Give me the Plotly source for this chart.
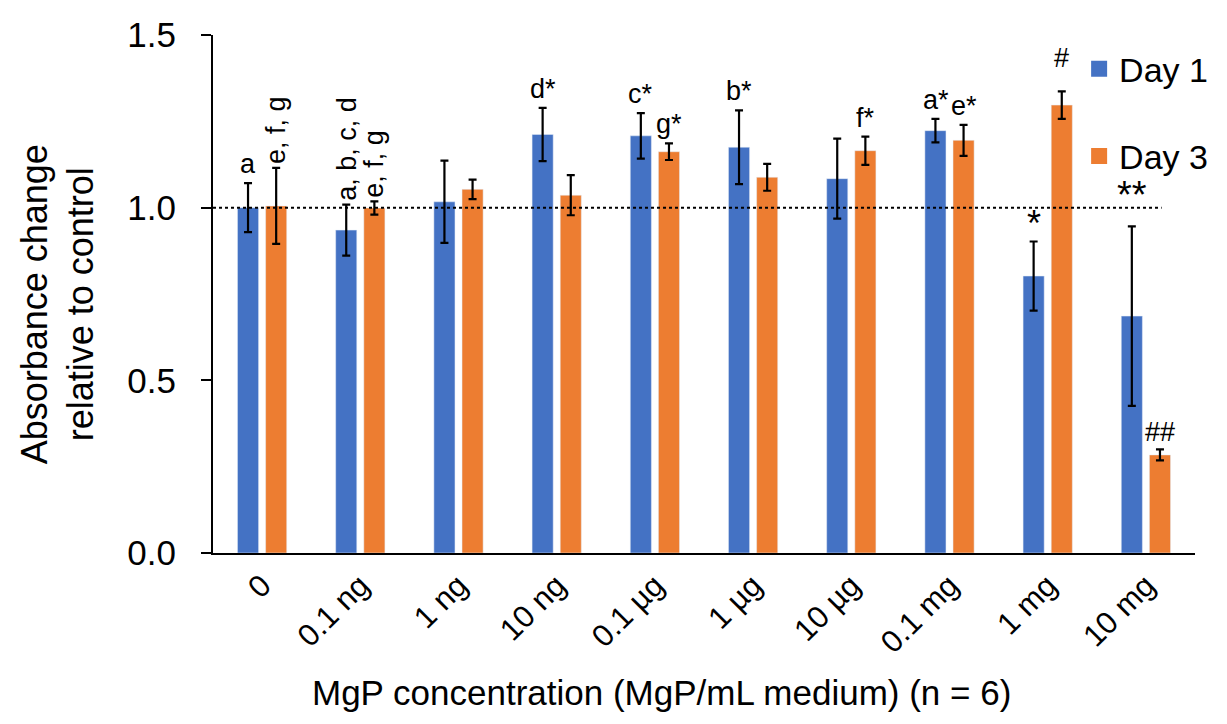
import plotly.graph_objects as go

categories = ["0", "0.1 ng", "1 ng", "10 ng", "0.1 µg", "1 µg", "10 µg", "0.1 mg", "1 mg", "10 mg"]
day1 = [1.00, 0.935, 1.017, 1.212, 1.208, 1.175, 1.084, 1.223, 0.802, 0.686]
day1_err = [0.071, 0.074, 0.119, 0.077, 0.066, 0.107, 0.116, 0.034, 0.10, 0.26]
day3 = [1.005, 0.999, 1.053, 1.036, 1.162, 1.088, 1.165, 1.195, 1.297, 0.284]
day3_err = [0.11, 0.019, 0.028, 0.058, 0.024, 0.039, 0.041, 0.045, 0.04, 0.016]
day1_labels = ["a", "a, b, c, d", "", "d*", "c*", "b*", "", "a*", "*", "**"]
day3_labels = ["e, f, g", "e, f, g", "", "", "g*", "", "f*", "e*", "#", "##"]
series_names = ["Day 1", "Day 3"]

BLUE = "#4472C4"
ORANGE = "#ED7D31"
FONT = "Liberation Sans, Arial, sans-serif"

# label styling (font size, vertical shift in px)
label_style = {"*": (36, -4), "**": (38, 8), "#": (27, 16), "##": (27, 0)}

fig = go.Figure()
for name, vals, errs, color in ((series_names[0], day1, day1_err, BLUE),
                                (series_names[1], day3, day3_err, ORANGE)):
    fig.add_trace(go.Bar(
        x=categories, y=vals, name=name, marker_color=color, showlegend=False,
        error_y=dict(type="data", array=errs, color="black", thickness=2.2, width=4),
    ))
# legend entries with larger square swatches
for name, color, grp in ((series_names[0], BLUE, "g1"), (series_names[1], ORANGE, "g2")):
    fig.add_trace(go.Scatter(
        x=[None], y=[None], mode="markers", name=name, legendgroup=grp,
        marker=dict(symbol="square", size=18, color=color),
    ))

annotations = []
for i, cat in enumerate(categories):
    for lab, vals, errs, shift in ((day1_labels[i], day1, day1_err, -14), (day3_labels[i], day3, day3_err, 14)):
        if not lab:
            continue
        vertical = "," in lab
        size, ys = label_style.get(lab, (27, 2))
        annotations.append(dict(
            x=cat, y=vals[i] + errs[i], xref="x", yref="y", text=lab,
            showarrow=False, xshift=shift, yshift=ys, yanchor="bottom",
            textangle=-90 if vertical else 0,
            font=dict(family=FONT, size=size, color="black"),
        ))

# axis titles
annotations.append(dict(
    text="MgP concentration (MgP/mL medium) (n = 6)", xref="paper", yref="paper",
    x=0.457, y=-0.27, xanchor="center", yanchor="middle", showarrow=False,
    font=dict(family=FONT, size=35, color="black"),
))
annotations.append(dict(
    text="Absorbance change<br>relative to control", xref="paper", yref="paper",
    x=0, y=0.48, xshift=-155, xanchor="center", yanchor="middle", showarrow=False,
    textangle=-90, font=dict(family=FONT, size=36, color="black"),
))

fig.update_layout(
    width=1227, height=724,
    paper_bgcolor="white", plot_bgcolor="white",
    margin=dict(l=205, r=40, t=27, b=179),
    barmode="group", bargap=0.427, bargroupgap=0.25,
    font=dict(family=FONT, color="black"),
    showlegend=True,
    legend=dict(x=0.882, y=0.99, xanchor="left", yanchor="top",
                font=dict(family=FONT, size=34, color="black"),
                tracegroupgap=40, bgcolor="rgba(0,0,0,0)", itemwidth=30),
    annotations=annotations,
    shapes=[dict(type="line", xref="paper", yref="y", x0=0, x1=0.966, y0=1, y1=1,
                 line=dict(color="black", width=2, dash="dot"))],
)
fig.update_xaxes(
    showline=True, linecolor="black", linewidth=2, ticks="", tickangle=-45,
    tickfont=dict(family=FONT, size=31, color="black"),
    showgrid=False, zeroline=False, automargin=False,
)
fig.update_yaxes(
    range=[0, 1.5], tickvals=[0, 0.5, 1.0, 1.5], ticktext=["0.0", "0.5", "1.0", "1.5"],
    showline=True, linecolor="black", linewidth=2, ticks="outside", ticklen=10,
    tickwidth=2, tickcolor="black", ticklabelstandoff=18,
    tickfont=dict(family=FONT, size=35, color="black"),
    showgrid=False, zeroline=False, automargin=False,
)

fig.write_html("out.html")
